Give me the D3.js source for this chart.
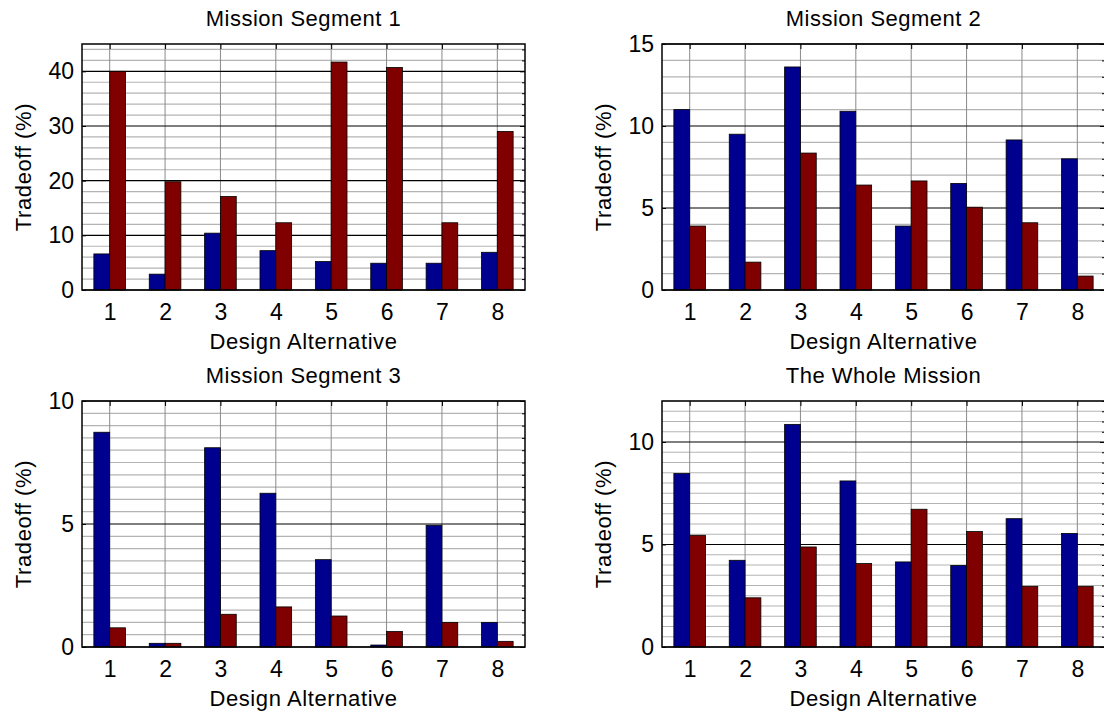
<!DOCTYPE html>
<html>
<head>
<meta charset="utf-8">
<script src="https://cdn.jsdelivr.net/npm/d3@7"></script>
<style>
  body { margin: 0; background: #fff; overflow: hidden; }
  svg { display: block; font-family: "Liberation Sans", Arial, sans-serif; }
</style>
</head>
<body>
<div class="container"></div>
<script>
// design alternatives on the x axis
var categories = [1, 2, 3, 4, 5, 6, 7, 8];

// Mission Segment 1
var seg1Blue = [6.6, 2.9, 10.4, 7.2, 5.2, 4.9, 4.9, 6.9];
var seg1Red  = [40.0, 19.8, 17.1, 12.3, 41.7, 40.7, 12.3, 29.0];
var seg1Ticks = [0, 10, 20, 30, 40];

// Mission Segment 2
var seg2Blue = [11.0, 9.5, 13.6, 10.9, 3.9, 6.5, 9.15, 8.0];
var seg2Red  = [3.9, 1.7, 8.35, 6.4, 6.65, 5.05, 4.1, 0.85];
var seg2Ticks = [0, 5, 10, 15];

// Mission Segment 3
var seg3Blue = [8.73, 0.15, 8.1, 6.25, 3.55, 0.08, 4.95, 1.0];
var seg3Red  = [0.78, 0.15, 1.33, 1.63, 1.26, 0.63, 1.0, 0.23];
var seg3Ticks = [0, 5, 10];

// The Whole Mission
var wholeBlue = [8.46, 4.23, 10.86, 8.1, 4.15, 3.98, 6.26, 5.54];
var wholeRed  = [5.45, 2.4, 4.88, 4.07, 6.72, 5.63, 2.96, 2.96];
var wholeTicks = [0, 5, 10];

var titles = ["Mission Segment 1", "Mission Segment 2", "Mission Segment 3", "The Whole Mission"];

var width = 1104,
    height = 715;

var svg = d3.select('.container')
    .append('svg')
    .attr('width', width)
    .attr('height', height);

// panel layout (positions only)
var panels = [
  { title: titles[0], blue: seg1Blue, red: seg1Red, ticks: seg1Ticks, yMax: 45, minor: 2,   left: 82,  top: 44 },
  { title: titles[1], blue: seg2Blue, red: seg2Red, ticks: seg2Ticks, yMax: 15, minor: 1,   left: 662, top: 44 },
  { title: titles[2], blue: seg3Blue, red: seg3Red, ticks: seg3Ticks, yMax: 10, minor: 0.5, left: 82,  top: 401 },
  { title: titles[3], blue: wholeBlue, red: wholeRed, ticks: wholeTicks, yMax: 12, minor: 0.5, left: 662, top: 401 }
];

var plotW = 443, plotH = 246;
var blueColor = '#00008f', redColor = '#800000';
var fontFam = '"Liberation Sans", Arial, sans-serif';

panels.forEach(function(p) {
    var g = svg.append('g').attr('transform', 'translate(' + p.left + ',' + p.top + ')');

    var x = d3.scaleLinear().domain([0.5, 8.5]).range([0, plotW]);
    var y = d3.scaleLinear().domain([0, p.yMax]).range([plotH, 0]);

    // MATLAB-style grouped bars: each bar 0.2857 of the category step
    var bw = (x(2) - x(1)) * 0.2857;

    // minor horizontal grid
    var minorVals = d3.range(0, p.yMax + 1e-9, p.minor).filter(function(v) {
        return p.ticks.indexOf(v) < 0;
    });
    g.selectAll('line.minor').data(minorVals).enter().append('line')
        .attr('class', 'minor')
        .attr('x1', 0).attr('x2', plotW)
        .attr('y1', function(d) { return y(d); })
        .attr('y2', function(d) { return y(d); })
        .attr('stroke', '#b4b4b4').attr('stroke-width', 1.2);

    // vertical grid
    g.selectAll('line.vgrid').data(categories).enter().append('line')
        .attr('class', 'vgrid')
        .attr('x1', function(d) { return x(d); })
        .attr('x2', function(d) { return x(d); })
        .attr('y1', 0).attr('y2', plotH)
        .attr('stroke', '#8a8a8a').attr('stroke-width', 1);

    // major horizontal grid
    g.selectAll('line.major').data(p.ticks).enter().append('line')
        .attr('class', 'major')
        .attr('x1', 0).attr('x2', plotW)
        .attr('y1', function(d) { return y(d); })
        .attr('y2', function(d) { return y(d); })
        .attr('stroke', '#000').attr('stroke-width', 1.2);

    // bars
    g.selectAll('rect.blue').data(p.blue).enter().append('rect')
        .attr('x', function(d, i) { return x(categories[i]) - bw; })
        .attr('y', function(d) { return y(d); })
        .attr('width', bw)
        .attr('height', function(d) { return plotH - y(d); })
        .attr('fill', blueColor).attr('stroke', '#000').attr('stroke-width', 0.8);

    g.selectAll('rect.red').data(p.red).enter().append('rect')
        .attr('x', function(d, i) { return x(categories[i]); })
        .attr('y', function(d) { return y(d); })
        .attr('width', bw)
        .attr('height', function(d) { return plotH - y(d); })
        .attr('fill', redColor).attr('stroke', '#000').attr('stroke-width', 0.8);

    // axes
    var xAxis = d3.axisBottom(x).tickValues(categories).tickSize(0).tickPadding(14);
    g.append('g').attr('transform', 'translate(0,' + plotH + ')').call(xAxis)
        .call(function(s) {
            s.select('.domain').remove();
            s.selectAll('text').attr('font-size', 23).attr('fill', '#000')
                .attr('font-family', fontFam);
        });

    var yAxis = d3.axisLeft(y).tickValues(p.ticks).tickSize(-4).tickPadding(8);
    g.append('g').call(yAxis)
        .call(function(s) {
            s.select('.domain').remove();
            s.selectAll('line').attr('stroke', '#000');
            s.selectAll('text').attr('font-size', 23).attr('fill', '#000')
                .attr('font-family', fontFam);
        });

    // right side ticks (minor + major), top ticks
    var rightAxis = d3.axisRight(y).tickValues(minorVals).tickSize(-3).tickFormat('');
    g.append('g').attr('transform', 'translate(' + plotW + ',0)').call(rightAxis)
        .call(function(s) { s.select('.domain').remove(); });
    var rightMajor = d3.axisRight(y).tickValues(p.ticks).tickSize(-5).tickFormat('');
    g.append('g').attr('transform', 'translate(' + plotW + ',0)').call(rightMajor)
        .call(function(s) { s.select('.domain').remove(); });
    var topAxis = d3.axisTop(x).tickValues(categories).tickSize(-5).tickFormat('');
    g.append('g').call(topAxis)
        .call(function(s) { s.select('.domain').remove(); });

    // box
    g.append('rect').attr('width', plotW).attr('height', plotH)
        .attr('fill', 'none').attr('stroke', '#000').attr('stroke-width', 1.5);

    // labels
    g.append('text')
        .attr('x', plotW / 2).attr('y', -18)
        .attr('text-anchor', 'middle')
        .attr('font-size', 22)
        .attr('letter-spacing', 0.5)
        .text(p.title);

    g.append('text')
        .attr('x', plotW / 2).attr('y', plotH + 59)
        .attr('text-anchor', 'middle')
        .attr('font-size', 22)
        .attr('letter-spacing', 0.6)
        .text('Design Alternative');

    g.append('text')
        .attr('transform', 'translate(-51,' + (plotH / 2) + ') rotate(-90)')
        .attr('text-anchor', 'middle')
        .attr('font-size', 22)
        .attr('letter-spacing', 0.6)
        .text('Tradeoff (%)');
});
</script>
</body>
</html>
